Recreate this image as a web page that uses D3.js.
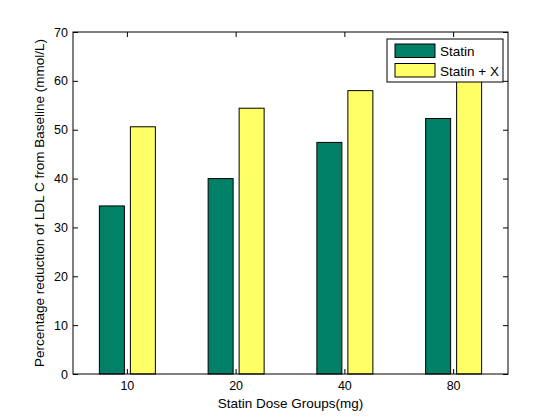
<!DOCTYPE html>
<html>
<head>
<meta charset="utf-8">
<script src="https://cdn.jsdelivr.net/npm/d3@7/dist/d3.min.js"></script>
<style>
  html, body { margin: 0; padding: 0; background: #fff; }
  svg { display: block; }
  text { font-family: "Liberation Sans", Arial, sans-serif; fill: #000; }
</style>
</head>
<body>
<svg id="chart" width="560" height="420"></svg>
<script>
const categories = ["10", "20", "40", "80"];
const seriesNames = ["Statin", "Statin + X"];
const statin = [34.4, 40.0, 47.4, 52.3];
const statinX = [50.6, 54.4, 58.0, 61.0];
const yTicks = [0, 10, 20, 30, 40, 50, 60, 70];
const seriesColors = ["#008066", "#ffff66"];
const xLabel = "Statin Dose Groups(mg)";
const yLabel = "Percentage reduction of LDL C from Baseline (mmol/L)";

const svg = d3.select("#chart");
const mLeft = 73, mRight = 508, mTop = 32, mBottom = 374;
const tickFont = "12.5px", labelFont = "13.5px";

const x = d3.scaleBand().domain(categories).range([mLeft, mRight]).padding(0);
const xs = d3.scaleBand().domain(seriesNames).range([-28, 28]).paddingInner(6 / 31).paddingOuter(0);
const y = d3.scaleLinear().domain([0, 70]).range([mBottom, mTop]);

const seriesValues = [statin, statinX];

// bars
seriesNames.forEach((s, si) => {
  svg.append("g").selectAll("rect")
    .data(categories.map((c, i) => ({ c, v: seriesValues[si][i] })))
    .join("rect")
    .attr("x", d => x(d.c) + x.bandwidth() / 2 + xs(s))
    .attr("width", xs.bandwidth())
    .attr("y", d => y(d.v))
    .attr("height", d => y(0) - y(d.v))
    .attr("fill", seriesColors[si])
    .attr("stroke", "#000")
    .attr("stroke-width", 1);
});

// axes box
svg.append("rect")
  .attr("x", mLeft).attr("y", mTop)
  .attr("width", mRight - mLeft).attr("height", mBottom - mTop)
  .attr("fill", "none").attr("stroke", "#000").attr("stroke-width", 1);

// left axis (ticks inward)
const yAxisL = svg.append("g").attr("transform", `translate(${mLeft},0)`)
  .call(d3.axisLeft(y).tickValues(yTicks).tickSizeInner(-5).tickSizeOuter(0).tickPadding(5));
yAxisL.select(".domain").remove();
yAxisL.selectAll("text").style("font-size", tickFont).style("font-family", "'Liberation Sans', Arial, sans-serif");

const yAxisR = svg.append("g").attr("transform", `translate(${mRight},0)`)
  .call(d3.axisRight(y).tickValues(yTicks).tickSizeInner(-5).tickSizeOuter(0).tickFormat(""));
yAxisR.select(".domain").remove();

const xAxisB = svg.append("g").attr("transform", `translate(0,${mBottom})`)
  .call(d3.axisBottom(x).tickSizeInner(-5).tickSizeOuter(0).tickPadding(7));
xAxisB.select(".domain").remove();
xAxisB.selectAll("text").style("font-size", tickFont).style("font-family", "'Liberation Sans', Arial, sans-serif");

const xAxisT = svg.append("g").attr("transform", `translate(0,${mTop})`)
  .call(d3.axisTop(x).tickSizeInner(-5).tickSizeOuter(0).tickFormat(""));
xAxisT.select(".domain").remove();

// axis labels
svg.append("text")
  .attr("x", (mLeft + mRight) / 2).attr("y", 408)
  .attr("text-anchor", "middle").style("font-size", labelFont)
  .text(xLabel);

svg.append("text")
  .attr("transform", `translate(44,${(mTop + mBottom) / 2}) rotate(-90)`)
  .attr("text-anchor", "middle").style("font-size", labelFont)
  .text(yLabel);

// legend
const lg = svg.append("g");
lg.append("rect")
  .attr("x", 387).attr("y", 39).attr("width", 116).attr("height", 43)
  .attr("fill", "#fff").attr("stroke", "#000");
seriesNames.forEach((s, i) => {
  const yy = 44 + i * 19.5;
  lg.append("rect")
    .attr("x", 395).attr("y", yy).attr("width", 40).attr("height", 13.5)
    .attr("fill", seriesColors[i]).attr("stroke", "#000");
  lg.append("text")
    .attr("x", 440).attr("y", yy + 12)
    .style("font-size", "13.5px")
    .text(s);
});
</script>
</body>
</html>
